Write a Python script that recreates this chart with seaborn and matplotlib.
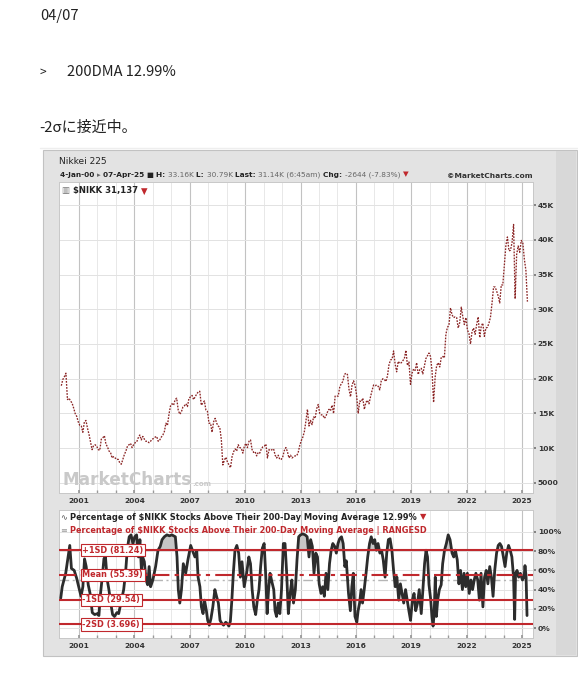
import numpy as np
import pandas as pd
import matplotlib
matplotlib.use("Agg")
import matplotlib.pyplot as plt
from matplotlib.patches import Rectangle
from matplotlib.lines import Line2D
import seaborn as sns

# ---------------- data ----------------
# Nikkei 225, approx. monthly levels (thousands), Jan-2000 .. Apr-2025
nikkei_k = [
    19.0, 19.9, 20.3, 20.8, 17.0, 17.2, 16.8, 16.5, 15.8, 15.0, 14.6, 13.8,   # 2000
    13.3, 13.2, 12.3, 13.8, 14.0, 12.9, 12.0, 10.9, 9.8, 10.4, 10.5, 10.3,    # 2001
    9.8, 9.7, 11.3, 11.5, 11.8, 10.6, 10.2, 9.6, 9.4, 8.6, 8.8, 8.6,          # 2002
    8.4, 8.4, 7.9, 7.7, 8.4, 9.1, 9.6, 10.3, 10.5, 10.7, 10.1, 10.5,          # 2003
    10.8, 10.9, 11.5, 11.9, 11.2, 11.7, 11.3, 11.0, 11.0, 10.8, 11.0, 11.3,   # 2004
    11.4, 11.6, 11.7, 11.0, 11.2, 11.6, 11.9, 12.4, 13.6, 13.3, 14.9, 16.1,   # 2005
    16.4, 16.2, 17.0, 17.2, 15.5, 14.9, 15.2, 15.9, 16.1, 16.4, 16.0, 17.2,   # 2006
    17.4, 17.6, 17.0, 17.4, 17.8, 18.1, 18.2, 16.2, 16.5, 16.8, 15.5, 15.3,   # 2007
    13.6, 13.6, 12.3, 13.8, 14.3, 13.6, 13.2, 13.0, 11.3, 7.6, 8.3, 8.7,      # 2008
    8.0, 7.6, 7.2, 8.8, 9.5, 9.9, 9.6, 10.5, 10.1, 10.0, 9.3, 10.3,           # 2009
    10.7, 10.1, 11.0, 11.2, 9.8, 9.4, 9.5, 8.9, 9.4, 9.3, 9.9, 10.2,          # 2010
    10.3, 10.6, 8.6, 9.8, 9.7, 9.8, 9.9, 9.0, 8.6, 9.0, 8.4, 8.4,             # 2011
    8.8, 9.7, 10.1, 9.5, 8.6, 9.0, 8.6, 8.8, 8.9, 8.9, 9.4, 10.4,             # 2012
    11.1, 11.6, 12.4, 13.9, 15.6, 13.2, 14.0, 13.4, 14.5, 14.3, 15.7, 16.3,   # 2013
    15.0, 14.8, 14.8, 14.3, 14.6, 15.2, 15.6, 15.4, 16.2, 15.0, 17.5, 17.5,   # 2014
    17.5, 18.8, 19.3, 19.6, 20.6, 20.8, 20.6, 18.5, 17.4, 19.1, 19.7, 19.0,   # 2015
    17.5, 15.0, 16.8, 16.7, 17.2, 15.6, 16.6, 16.9, 16.4, 17.4, 18.3, 19.1,   # 2016
    19.0, 19.1, 18.9, 18.4, 19.7, 20.0, 19.9, 19.6, 20.4, 22.0, 22.7, 22.8,   # 2017
    24.0, 22.1, 21.0, 22.5, 22.2, 22.3, 22.6, 22.9, 24.1, 21.9, 22.4, 19.2,   # 2018
    20.8, 21.4, 21.2, 22.3, 20.6, 21.3, 21.5, 20.7, 21.8, 22.9, 23.3, 23.7,   # 2019
    23.2, 21.1, 16.6, 20.2, 21.9, 22.3, 21.7, 23.1, 23.2, 23.0, 26.4, 27.4,   # 2020
    27.7, 30.2, 29.2, 28.8, 28.9, 28.8, 27.3, 28.1, 30.3, 28.9, 27.8, 28.8,   # 2021
    27.0, 26.5, 25.0, 26.8, 27.3, 26.4, 27.8, 28.9, 25.9, 27.6, 28.0, 26.1,   # 2022
    27.3, 27.4, 28.0, 28.9, 30.9, 33.2, 33.2, 32.6, 31.9, 30.9, 33.5, 33.5,   # 2023
    36.3, 39.2, 40.4, 38.4, 38.5, 39.6, 42.2, 31.5, 37.9, 39.1, 38.2, 39.9,   # 2024
    39.6, 37.2, 35.6, 31.1,                                                   # 2025
]
nikkei_start_year = 2000

# % of $NIKK stocks above 200-DMA
pct_years = [
    2000.01, 2000.09, 2000.28, 2000.41, 2000.50, 2000.59, 2000.74, 2000.87, 2001.02, 2001.11,
    2001.21, 2001.30, 2001.39, 2001.50, 2001.60, 2001.72, 2001.85, 2002.00, 2002.08, 2002.15,
    2002.26, 2002.35, 2002.43, 2002.53, 2002.62, 2002.72, 2002.82, 2002.92, 2003.05, 2003.15,
    2003.30, 2003.42, 2003.52, 2003.62, 2003.72, 2003.82, 2003.92, 2004.02, 2004.12, 2004.22,
    2004.30, 2004.38, 2004.45, 2004.54, 2004.63, 2004.72, 2004.80, 2004.88, 2005.00, 2005.15,
    2005.28, 2005.40, 2005.50, 2005.62, 2005.76, 2005.90, 2006.03, 2006.22, 2006.31, 2006.38,
    2006.46, 2006.55, 2006.65, 2006.78, 2006.90, 2007.05, 2007.18, 2007.28, 2007.38, 2007.45,
    2007.55, 2007.63, 2007.72, 2007.80, 2007.90, 2007.97, 2008.06, 2008.15, 2008.25, 2008.36,
    2008.45, 2008.55, 2008.64, 2008.73, 2008.83, 2008.95, 2009.05, 2009.12, 2009.20, 2009.28,
    2009.36, 2009.45, 2009.55, 2009.65, 2009.74, 2009.83, 2009.95, 2010.08, 2010.20, 2010.29,
    2010.38, 2010.47, 2010.57, 2010.66, 2010.75, 2010.84, 2010.93, 2011.03, 2011.12, 2011.19,
    2011.27, 2011.35, 2011.45, 2011.55, 2011.62, 2011.70, 2011.79, 2011.88, 2011.97, 2012.07,
    2012.16, 2012.25, 2012.34, 2012.44, 2012.53, 2012.62, 2012.72, 2012.81, 2012.90, 2013.00,
    2013.12, 2013.25, 2013.36, 2013.46, 2013.55, 2013.64, 2013.73, 2013.83, 2013.92, 2014.01,
    2014.11, 2014.20, 2014.29, 2014.38, 2014.48, 2014.57, 2014.66, 2014.75, 2014.85, 2014.94,
    2015.03, 2015.12, 2015.22, 2015.31, 2015.40, 2015.48, 2015.60, 2015.70, 2015.78, 2015.86,
    2015.95, 2016.05, 2016.12, 2016.20, 2016.28, 2016.36, 2016.45, 2016.55, 2016.64, 2016.74,
    2016.83, 2016.93, 2017.02, 2017.11, 2017.20, 2017.30, 2017.39, 2017.48, 2017.58, 2017.67,
    2017.76, 2017.85, 2017.95, 2018.04, 2018.13, 2018.22, 2018.32, 2018.41, 2018.50, 2018.59,
    2018.69, 2018.78, 2018.87, 2018.96, 2019.06, 2019.15, 2019.24, 2019.34, 2019.43, 2019.54,
    2019.63, 2019.72, 2019.80, 2019.88, 2019.96, 2020.05, 2020.12, 2020.18, 2020.24, 2020.30,
    2020.36, 2020.43, 2020.52, 2020.62, 2020.70, 2020.80, 2020.90, 2021.00, 2021.10, 2021.21,
    2021.30, 2021.39, 2021.49, 2021.58, 2021.67, 2021.77, 2021.86, 2021.95, 2022.04, 2022.14,
    2022.23, 2022.32, 2022.41, 2022.50, 2022.60, 2022.69, 2022.78, 2022.88, 2022.97, 2023.06,
    2023.15, 2023.25, 2023.34, 2023.43, 2023.52, 2023.62, 2023.71, 2023.80, 2023.89, 2023.99,
    2024.08, 2024.17, 2024.27, 2024.36, 2024.45, 2024.54, 2024.60, 2024.65, 2024.73, 2024.82,
    2024.91, 2025.02, 2025.11, 2025.16, 2025.22, 2025.27,
]
pct_values = [
    31, 43, 57, 74, 86, 62, 60, 52, 40, 33,
    43, 72, 64, 45, 36, 16, 14, 15, 13, 33,
    53, 72, 75, 50, 40, 26, 14, 12, 16, 15,
    29, 40, 57, 83, 95, 97, 88, 95, 97, 74,
    92, 61, 74, 69, 50, 45, 64, 43, 50, 64,
    81, 85, 92, 95, 97, 96, 97, 95, 74, 40,
    26, 40, 67, 57, 71, 86, 79, 74, 80, 53,
    43, 22, 15, 29, 18, 8, 3, 10, 22, 40,
    33, 26, 8, 5, 3, 6, 4, 2, 7, 29,
    57, 81, 86, 78, 53, 69, 43, 57, 74, 67,
    40, 22, 14, 29, 40, 64, 83, 88, 53, 15,
    40, 57, 48, 40, 18, 12, 26, 15, 40, 88,
    88, 57, 15, 36, 50, 26, 40, 71, 95, 97,
    98, 97, 95, 74, 92, 85, 57, 78, 74, 46,
    36, 43, 33, 57, 40, 67, 81, 88, 85, 78,
    88, 93, 95, 88, 64, 70, 36, 18, 43, 57,
    12, 6, 18, 26, 40, 26, 40, 57, 74, 88,
    95, 88, 92, 81, 88, 78, 81, 71, 53, 78,
    92, 93, 81, 60, 43, 53, 29, 46, 36, 26,
    40, 29, 18, 8, 29, 36, 18, 26, 40, 15,
    40, 67, 81, 74, 45, 30, 12, 2, 15, 53,
    12, 29, 40, 45, 67, 81, 88, 97, 92, 78,
    74, 81, 71, 46, 60, 40, 57, 43, 57, 36,
    50, 40, 50, 57, 50, 29, 57, 22, 53, 60,
    46, 64, 53, 33, 60, 78, 86, 88, 85, 74,
    64, 78, 86, 81, 74, 53, 9, 57, 60, 53,
    57, 50, 53, 65, 53, 12.99,
]

sd_names = ["+1SD", "Mean", "-1SD", "-2SD"]
sd_levels = [81.24, 55.39, 29.54, 3.696]
sd_text = ["81.24", "55.39", "29.54", "3.696"]

price_ticks = [5, 10, 15, 20, 25, 30, 35, 40, 45]
pct_ticks = [0, 20, 40, 60, 80, 100]
year_labels = [2001, 2004, 2007, 2010, 2013, 2016, 2019, 2022, 2025]

# ---------------- figure ----------------
sns.set_theme(style="white")
plt.rcParams["font.family"] = ["DejaVu Sans"]

W, H = 578, 675
fig = plt.figure(figsize=(W / 100, H / 100), dpi=100)
fig.patch.set_facecolor("white")


def fx(x):
    return x / W


def fy(y):
    return 1 - y / H


renderer = fig.canvas.get_renderer()


def runs(x, y, parts, target_w=None, size=6.0, family=None):
    """Draw consecutive text runs; optionally scale the font to fit target width."""
    def make(sz, draw_x):
        arts = []
        cur = draw_x
        for s, wt, col in parts:
            kw = dict(fontsize=sz, fontweight=wt, color=col, va="center", ha="left")
            if family:
                kw["family"] = family
            t = fig.text(fx(cur), fy(y), s, **kw)
            cur += t.get_window_extent(renderer).width
            arts.append(t)
        return arts, cur - draw_x
    arts, w = make(size, x)
    if target_w is not None:
        for a in arts:
            a.remove()
        size = size * target_w / w
        arts, w = make(size, x)
    return arts


# top free text
jp = ["Noto Sans CJK JP", "DejaVu Sans"]
fig.text(fx(40), fy(16), "04/07", fontsize=10.5, family=jp, color="#222222", va="center")
fig.text(fx(40), fy(72), ">", fontsize=8.5, family=jp, color="#222222", va="center")
fig.text(fx(67), fy(72), "200DMA 12.99%", fontsize=10.5, family=jp, color="#222222", va="center")
runs(39, 127.5, [("-2σに接近中。", "normal", "#222222")], target_w=98, size=10.5, family=jp)
fig.add_artist(Line2D([fx(40), fx(578)], [fy(148), fy(148)], transform=fig.transFigure,
                      color="#eeeeee", lw=1))

# chart frame
fig.add_artist(Rectangle((fx(43), fy(656)), (577 - 43) / W, (656 - 150) / H,
                         transform=fig.transFigure, facecolor="#e3e3e3",
                         edgecolor="#c2c2c2", lw=0.8, zorder=0))
fig.add_artist(Rectangle((fx(556), fy(655)), (576 - 556) / W, (655 - 151) / H,
                         transform=fig.transFigure, facecolor="#d8d8d8",
                         edgecolor="none", lw=0, zorder=0))

# header inside frame
runs(59, 162, [("Nikkei 225", "normal", "#222222")], target_w=48, size=6)
dark, grey, red = "#222222", "#666666", "#c0282d"
runs(60, 174.5, [
    ("4-Jan-00 ", "bold", dark), ("\u25b8 ", "normal", grey), ("07-Apr-25 ", "bold", dark),
    ("\u25a0 ", "normal", dark), ("H: ", "bold", dark), ("33.16K ", "normal", grey),
    ("L: ", "bold", dark), ("30.79K ", "normal", grey), ("Last: ", "bold", dark),
    ("31.14K (6:45am) ", "normal", grey), ("Chg: ", "bold", dark),
    ("-2644 (-7.83%) ", "normal", grey), ("\u25bc", "normal", red)], target_w=350, size=5)
runs(447, 175.5, [("\u00a9MarketCharts.com", "bold", "#333333")], target_w=86, size=5)

# ---------------- axes ----------------
xl = (2001 - 20 / 18.46, 2001 + 454 / 18.46)
ax1 = fig.add_axes([fx(59), fy(493), (533 - 59) / W, (493 - 182) / H])
ax2 = fig.add_axes([fx(59), fy(638), (533 - 59) / W, (638 - 510) / H])

# price series
n = len(nikkei_k)
price_df = pd.DataFrame({
    "year": [nikkei_start_year + (i + 0.5) / 12 for i in range(n)],
    "close": nikkei_k,
})
sns.lineplot(data=price_df, x="year", y="close", ax=ax1, color="#8a2424",
             linewidth=0.95, zorder=3)
for ln in ax1.get_lines():
    ln.set_dashes((1.3, 1.0))

# pct series
pct_df = pd.DataFrame({"year": pct_years, "pct": pct_values})
yv = np.array(pct_years)
pv = np.array(pct_values, dtype=float)
ax2.fill_between(yv, pv, sd_levels[0], where=pv >= sd_levels[0], interpolate=True,
                 color="#c6c6c6", lw=0, zorder=2)
ax2.fill_between(yv, pv, sd_levels[3], where=pv <= sd_levels[3], interpolate=True,
                 color="#f2b3b3", lw=0, zorder=2)
ax2.axhline(50, color="#b5b5b5", lw=1.0, dashes=(7, 2.5, 1.5, 2.5), zorder=2)
sns.lineplot(data=pct_df, x="year", y="pct", ax=ax2, color="#2c2c2c",
             linewidth=2.0, zorder=3)
for name, lvl, txt in zip(sd_names, sd_levels, sd_text):
    if name == "Mean":
        ax2.axhline(lvl, color=red, lw=1.5, dashes=(8, 2.5, 2, 2.5), zorder=4)
    else:
        ax2.axhline(lvl, color=red, lw=1.5, zorder=4)
    ax2.text(2001.18, lvl, f"{name} ({txt})", fontsize=5.9, fontweight="bold", color=red,
             va="center", ha="left", zorder=6,
             bbox=dict(boxstyle="square,pad=0.2", facecolor="white", edgecolor=red, lw=0.8))

# axis styling
for ax in (ax1, ax2):
    ax.set_facecolor("white")
    ax.set_xlim(*xl)
    ax.set_xlabel("")
    ax.set_ylabel("")
    ax.set_xticks(year_labels)
    ax.set_xticklabels([str(y) for y in year_labels])
    ax.set_xticks(list(range(2001, 2026)), minor=True)
    ax.yaxis.tick_right()
    ax.grid(which="major", axis="x", color="#c2c2c2", lw=0.8, zorder=0)
    ax.grid(which="minor", axis="x", color="#e4e4e4", lw=0.6, zorder=0)
    ax.grid(which="major", axis="y", color="#e2e2e2", lw=0.7, zorder=0)
    ax.set_axisbelow(True)
    for sp in ax.spines.values():
        sp.set_color("#c8c8c8")
        sp.set_linewidth(0.7)
    ax.tick_params(axis="x", which="both", direction="in", length=2, color="#999999",
                   labelsize=5.4, labelcolor="#333333", pad=3.5, bottom=True)
    ax.tick_params(axis="y", which="major", direction="out", length=2.2, color="#777777",
                   labelsize=5.4, labelcolor="#333333", pad=1.2, right=True, left=False)

ax1.set_ylim(3.56, 48.31)
ax1.set_yticks(price_ticks)
ax1.set_yticklabels(["5000" if v == 5 else f"{v}K" for v in price_ticks])
ax2.set_ylim(-10.4, 122.9)
ax2.set_yticks(pct_ticks)
ax2.set_yticklabels([f"{v}%" for v in pct_ticks])
for ax in (ax1, ax2):
    for lab in ax.get_xticklabels() + ax.get_yticklabels():
        lab.set_fontweight("bold")

# legends
runs(62, 191, [("\u25a5 ", "normal", "#777777"), ("$NIKK 31,137 ", "bold", "#222222"),
               ("\u25bc", "normal", red)], target_w=86, size=6)
runs(61, 517, [("\u223f ", "normal", "#555555"),
               ("Percentage of $NIKK Stocks Above Their 200-Day Moving Average 12.99% ",
                "bold", "#222222"), ("\u25bc", "normal", red)], target_w=367, size=6)
runs(61, 530.5, [("\u2261 ", "normal", "#999999"),
                 ("Percentage of $NIKK Stocks Above Their 200-Day Moving Average | RANGESD",
                  "bold", red)], target_w=370, size=6)

# watermark
runs(63, 480, [("MarketCharts", "bold", "#c9c9c9")], target_w=129, size=12)
runs(192, 484, [(".com", "bold", "#c9c9c9")], target_w=19, size=6)

fig.savefig("out.png", dpi=100, facecolor="white")
